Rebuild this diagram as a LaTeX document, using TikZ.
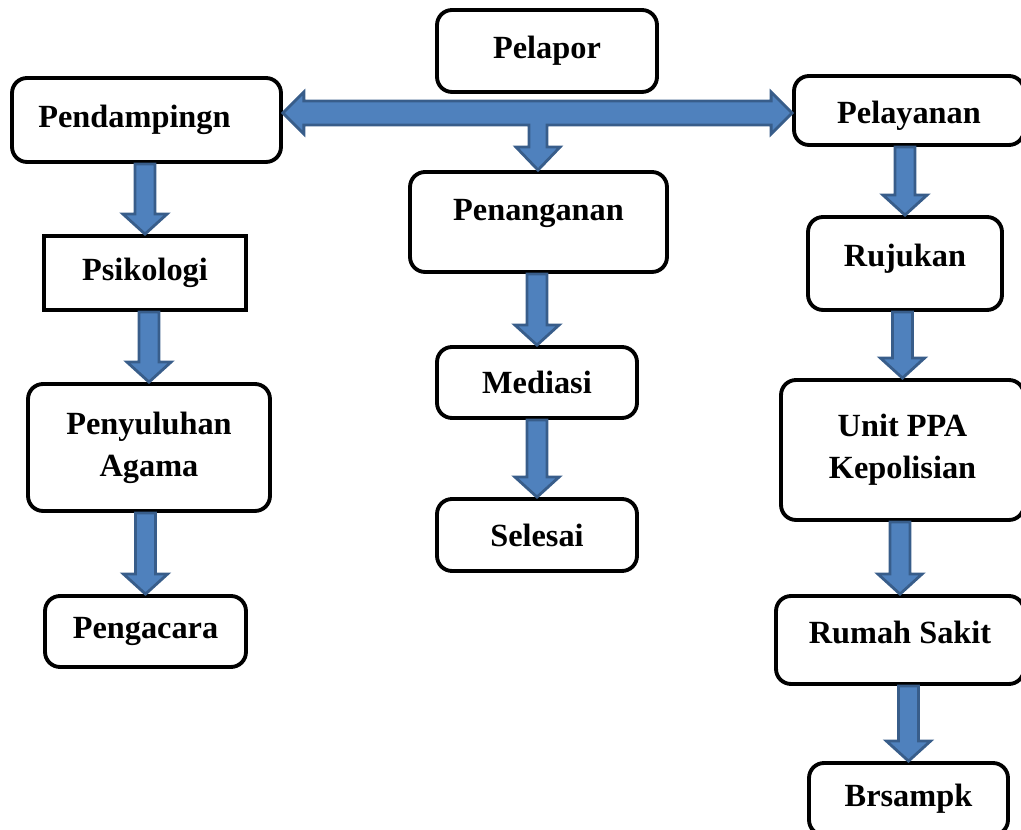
\documentclass[tikz,border=0pt]{standalone}
\usepackage{fontspec}
\setmainfont{Liberation Serif}
\usetikzlibrary{calc}
\definecolor{arrowblue}{HTML}{4F81BD}
\definecolor{arrowedge}{HTML}{385D8A}
\newcommand{\blockdown}[2]{%
  \draw[blockarrow] let \p1=(#1.south), \p2=(#2.north) in
    (\x2-0.2cm,\y1) -- (\x2+0.2cm,\y1) -- (\x2+0.2cm,\y2+0.4cm) -- (\x2+0.44cm,\y2+0.4cm)
    -- (\x2,\y2) -- (\x2-0.44cm,\y2+0.4cm) -- (\x2-0.2cm,\y2+0.4cm) -- cycle;}
\begin{document}
\begin{tikzpicture}[x=0.02cm,y=-0.02cm,
    box/.style={draw,line width=2.2pt,rounded corners=0.3cm,align=center,
      font=\bfseries\fontsize{18.4}{24}\selectfont,inner sep=0pt},
    blockarrow/.style={fill=arrowblue,draw=arrowedge,line width=1.6pt,line join=miter}]
  \useasboundingbox (0,0) rectangle (1021,830);
  \node[box,minimum width=4.4cm,minimum height=1.64cm] (pelapor) at (547,51) {Pelapor};
  \node[box,minimum width=5.38cm,minimum height=1.68cm] (pendamping) at (146.5,120) {Pendampingn\hspace*{0.48cm}};
  \node[box,minimum width=4.6cm,minimum height=1.38cm,text height=0.64cm] (pelayanan) at (909,110.5) {Pelayanan};
  \node[box,minimum width=5.14cm,minimum height=2cm,text depth=0.5cm] (penanganan) at (538.5,222) {Penanganan};
  \node[box,rounded corners=0pt,minimum width=4.04cm,minimum height=1.48cm] (psikologi) at (145,273) {Psikologi};
  \node[box,minimum width=4.84cm,minimum height=2.54cm] (penyuluhan) at (149,447.5) {Penyuluhan\\Agama};
  \node[box,minimum width=4.02cm,minimum height=1.42cm] (pengacara) at (145.5,631.5) {Pengacara};
  \node[box,minimum width=4cm,minimum height=1.42cm] (mediasi) at (537,382.5) {Mediasi};
  \node[box,minimum width=4cm,minimum height=1.44cm] (selesai) at (537,535) {Selesai};
  \node[box,minimum width=3.88cm,minimum height=1.86cm,text depth=0.34cm] (rujukan) at (905,263.5) {Rujukan};
  \node[box,minimum width=4.86cm,minimum height=2.8cm] (unitppa) at (902.5,450) {Unit PPA\\Kepolisian};
  \node[box,minimum width=4.96cm,minimum height=1.76cm,text depth=0.3cm] (rumahsakit) at (900,640) {Rumah Sakit};
  \node[box,minimum width=3.98cm,minimum height=1.44cm] (brsampk) at (908.5,799) {Brsampk};
  \coordinate (hub) at (538,113);
  \draw[blockarrow] let \p1=(pendamping.east), \p2=(pelayanan.west), \p3=(penanganan.north), \p4=(hub) in
    (\x1,\y4) -- (\x1+0.42cm,\y4+0.42cm) -- (\x1+0.42cm,\y4+0.24cm) -- (\x2-0.42cm,\y4+0.24cm)
    -- (\x2-0.42cm,\y4+0.42cm) -- (\x2,\y4) -- (\x2-0.42cm,\y4-0.42cm) -- (\x2-0.42cm,\y4-0.24cm)
    -- (\x4+0.18cm,\y4-0.24cm) -- (\x4+0.18cm,\y3+0.46cm) -- (\x4+0.44cm,\y3+0.46cm) -- (\x4,\y3)
    -- (\x4-0.44cm,\y3+0.46cm) -- (\x4-0.18cm,\y3+0.46cm) -- (\x4-0.18cm,\y4-0.24cm)
    -- (\x1+0.42cm,\y4-0.24cm) -- (\x1+0.42cm,\y4-0.42cm) -- cycle;
  \blockdown{pendamping}{psikologi}
  \blockdown{psikologi}{penyuluhan}
  \blockdown{penyuluhan}{pengacara}
  \blockdown{penanganan}{mediasi}
  \blockdown{mediasi}{selesai}
  \blockdown{pelayanan}{rujukan}
  \blockdown{rujukan}{unitppa}
  \blockdown{unitppa}{rumahsakit}
  \blockdown{rumahsakit}{brsampk}
\end{tikzpicture}
\end{document}
